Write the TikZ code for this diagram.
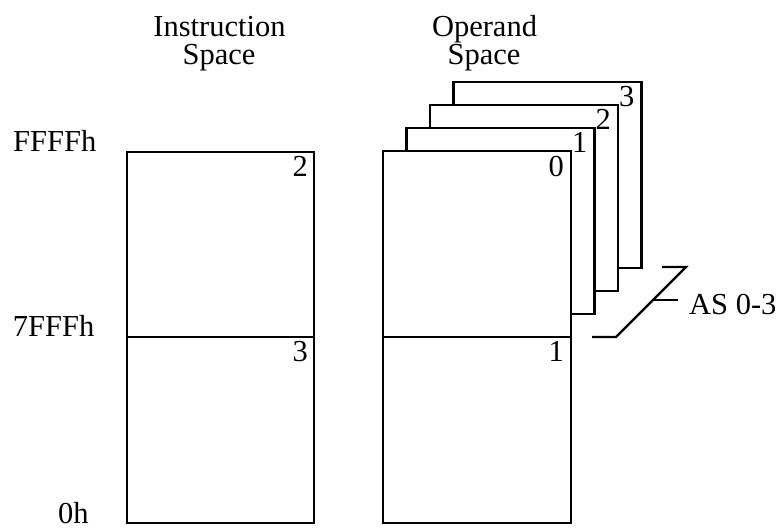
\documentclass[tikz,border=0pt]{standalone}
\usepackage{fontspec}
\setmainfont{Liberation Serif}
\begin{document}
\begin{tikzpicture}[x=1pt,y=-1pt,
  every node/.style={inner sep=0pt, font=\fontsize{30.5pt}{27.7pt}\selectfont},
  frame/.style={draw=black, line width=2.2pt, fill=white},
  rule/.style={draw=black, line width=2.2pt},
  pagenum/.style={anchor=base east},
  addr/.style={anchor=base west},
  head/.style={anchor=base}]
\useasboundingbox (0,0) rectangle (779,529);

% column headings
\node[head] (ihead1) at (219.5,36.7) {Instruction};
\node[head] (ihead2) at (219,64.3) {Space};
\node[head] (ohead1) at (484.5,36.7) {Operand};
\node[head] (ohead2) at (484,64.3) {Space};

% address marks
\node[addr] (aTop) at (13,152) {FFFFh};
\node[addr] (aMid) at (12.7,337) {7FFFh};
\node[addr] (aLow) at (58,523) {0h};

% instruction space
\draw[frame] (127,152) rectangle (314,523);
\draw[rule] (127,337) -- (314,337);
\node[pagenum] (i2) at (308,177) {2};
\node[pagenum] (i3) at (308,361) {3};

% operand space: address-space sheets, back to front
\foreach \n/\dx/\dy in {3/70.5/69, 2/47/46, 1/23.5/23} {
  \draw[frame] (383+\dx,151-\dy) rectangle (571+\dx,337-\dy);
  \node[pagenum] (sheet\n) at (564+\dx,175.5-\dy) {\n};
}
\draw[frame] (383,151) rectangle (571,523);
\draw[rule] (383,337) -- (571,337);
\node[pagenum] (o0) at (564,176.5) {0};
\node[pagenum] (o1) at (564,361) {1};

% address-space selector
\coordinate (bTopEnd) at (662,267);
\coordinate (bTop) at (686,267);
\coordinate (bBot) at (616,337);
\coordinate (bBotEnd) at (592,337);
\coordinate (bTick) at (653,300);
\coordinate (bTickEnd) at (678,300);
\draw[rule] (bTopEnd) -- (bTop) -- (bBot) -- (bBotEnd);
\draw[rule] (bTick) -- (bTickEnd);
\node[addr] (asLabel) at (689,315) {AS 0-3};
\end{tikzpicture}
\end{document}
